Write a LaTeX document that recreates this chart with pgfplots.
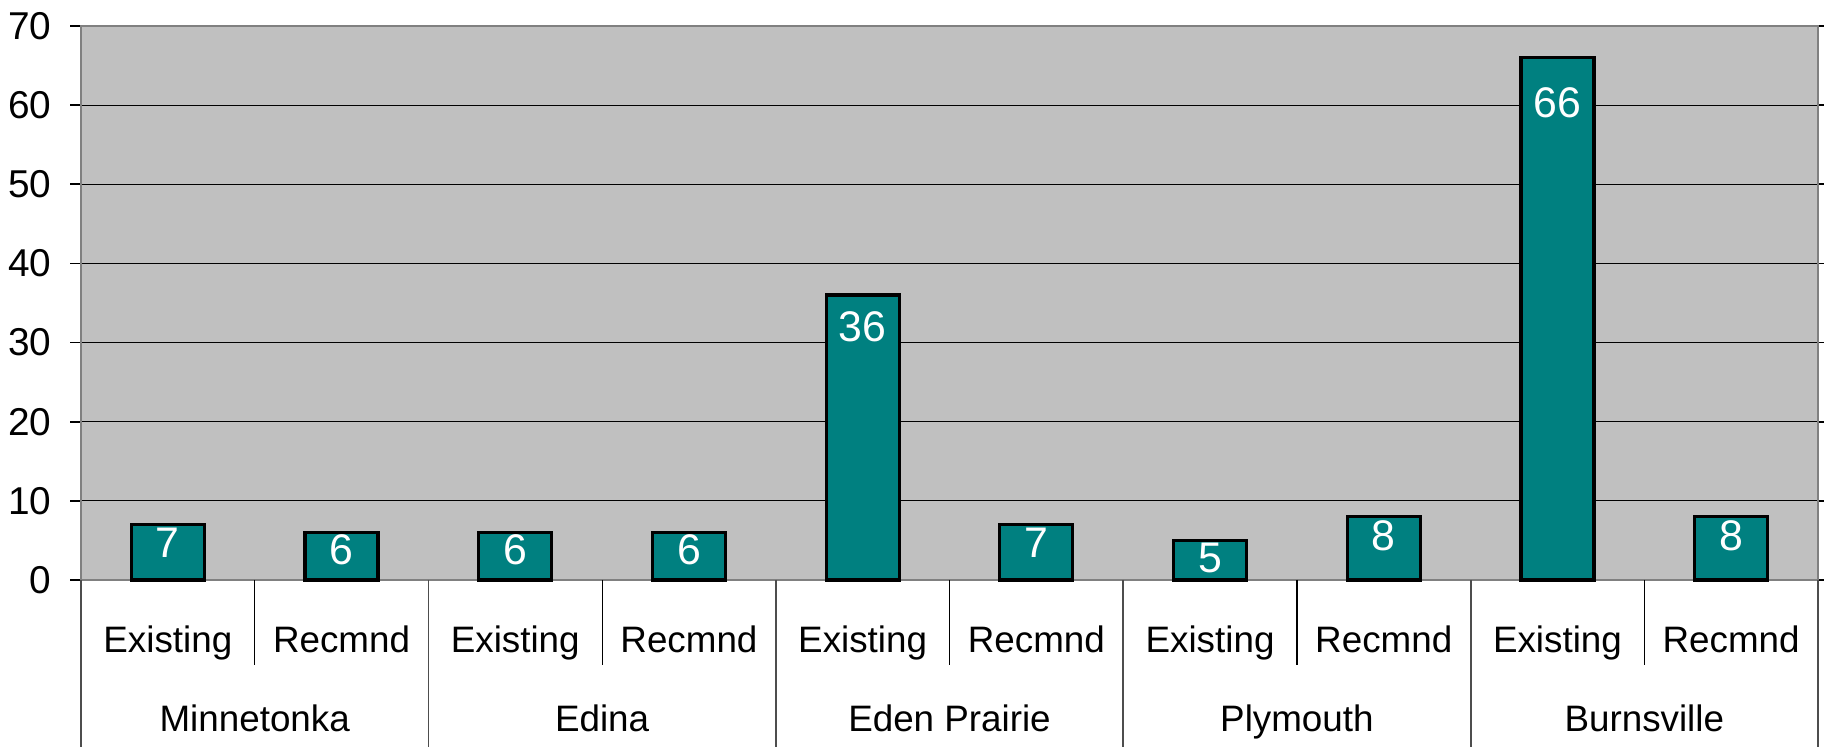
\documentclass[border=0pt]{standalone}
\usepackage{fontspec}
\setmainfont{Liberation Sans}
\usepackage{pgfplots}
\pgfplotsset{compat=1.18}
\definecolor{plotbg}{HTML}{C0C0C0}
\definecolor{teal}{HTML}{008080}
\definecolor{frame}{HTML}{808080}

\begin{document}
\begin{tikzpicture}
% fixed page size: 1 px of the reference = 0.25pt
\path[use as bounding box] (-20.25pt,-41.75pt) rectangle (435.75pt,145pt);
\begin{axis}[
    at={(0,0)}, anchor=south west,
    scale only axis,
    width=434.25pt, height=138.5pt,
    xmin=-0.5, xmax=9.5,
    ymin=0, ymax=70,
    ytick={0,10,...,70},
    xtick={0,...,9},
    xticklabels={Existing,Recmnd,Existing,Recmnd,Existing,Recmnd,Existing,Recmnd,Existing,Recmnd},
    x tick style={draw=none},
    y tick style={black, line width=0.4pt},
    tick align=outside,
    major tick length=2.75pt,
    ymajorgrids,
    grid style={black, line width=0.3pt},
    axis background/.style={fill=plotbg},
    axis line style={frame, line width=0.7pt},
    /pgf/number format/assume math mode=true,
    yticklabel style={font=\fontsize{9.7}{11}\selectfont, anchor=east, inner sep=0pt, xshift=-4.5pt},
    xticklabel style={font=\fontsize{9.2}{11}\selectfont, anchor=base, inner sep=0pt, yshift=-15.3pt},
    ybar, bar width=0.42,
    clip=false,
    nodes near coords,
    visualization depends on={rawy \as \rawy},
    every node near coord/.style={font=\fontsize{10.7}{12}\selectfont, text=white, anchor=center,
        yshift={(-3.75-0.1125*\rawy)*1pt}},
]
\addplot[fill=teal, draw=black, line width=0.8pt] coordinates {
    (0,7) (1,6) (2,6) (3,6) (4,36) (5,7) (6,5) (7,8) (8,66) (9,8)
};

% category separators
\pgfplotsinvokeforeach{0.5,2.5,4.5,6.5,8.5}{
  \draw[black, line width=0.3pt] (axis cs:#1,0) -- ([yshift=-21.25pt]axis cs:#1,0);
}
\pgfplotsinvokeforeach{-0.5,1.5,3.5,5.5,7.5,9.5}{
  \draw[frame!60!black, line width=0.45pt] (axis cs:#1,0) -- ([yshift=-41.75pt]axis cs:#1,0);
}

% group labels
\node[font=\fontsize{9.2}{11}\selectfont, inner sep=0pt, anchor=base] at ([yshift=-38pt]axis cs:0.5,0) {Minnetonka};
\node[font=\fontsize{9.2}{11}\selectfont, inner sep=0pt, anchor=base] at ([yshift=-38pt]axis cs:2.5,0) {Edina};
\node[font=\fontsize{9.2}{11}\selectfont, inner sep=0pt, anchor=base] at ([yshift=-38pt]axis cs:4.5,0) {Eden Prairie};
\node[font=\fontsize{9.2}{11}\selectfont, inner sep=0pt, anchor=base] at ([yshift=-38pt]axis cs:6.5,0) {Plymouth};
\node[font=\fontsize{9.2}{11}\selectfont, inner sep=0pt, anchor=base] at ([yshift=-38pt]axis cs:8.5,0) {Burnsville};
\end{axis}
\end{tikzpicture}
\end{document}
